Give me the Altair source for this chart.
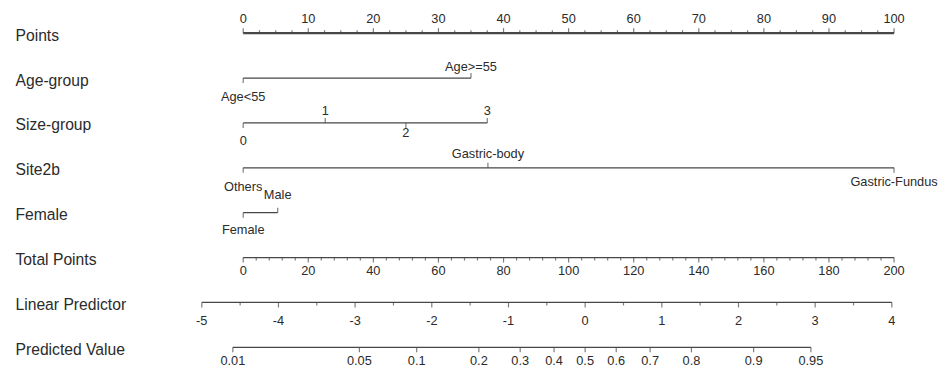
import altair as alt
import pandas as pd
import numpy as np

# ---------------- data ----------------
ROWS = ["Points", "Age-group", "Size-group", "Site2b", "Female",
        "Total Points", "Linear Predictor", "Predicted Value"]

POINTS_LABELS = [0, 10, 20, 30, 40, 50, 60, 70, 80, 90, 100]
POINTS_MINOR_STEP = 2.5

AGE_LEVELS = ["Age<55", "Age>=55"]
AGE_POINTS = [0, 35]
AGE_SIDE = ["below", "above"]

SIZE_LEVELS = ["0", "1", "2", "3"]
SIZE_POINTS = [0, 12.6, 25, 37.5]
SIZE_SIDE = ["below", "above", "below", "above"]

SITE_LEVELS = ["Others", "Gastric-body", "Gastric-Fundus"]
SITE_POINTS = [0, 37.6, 100]
SITE_SIDE = ["below", "above", "below"]

SEX_LEVELS = ["Female", "Male"]
SEX_POINTS = [0, 5.3]
SEX_SIDE = ["below", "above"]

TOTAL_LABELS = [0, 20, 40, 60, 80, 100, 120, 140, 160, 180, 200]
TOTAL_MINOR_STEP = 4
TOTAL_PER_POINT = 2.0

LP_LABELS = [-5, -4, -3, -2, -1, 0, 1, 2, 3, 4]
LP_MINOR_STEP = 0.5
LP_AT_ZERO_POINTS = -4.46
POINTS_PER_LP = 11.78

PV_VALUES = [0.01, 0.05, 0.1, 0.2, 0.3, 0.4, 0.5, 0.6, 0.7, 0.8, 0.9, 0.95]
PV_TEXT = ["0.01", "0.05", "0.1", "0.2", "0.3", "0.4", "0.5", "0.6", "0.7",
           "0.8", "0.9", "0.95"]

# ---------------- styling (label offsets in px) ----------------
ROW_DY = {"Points": -14, "Total Points": 13, "Linear Predictor": 19,
          "Predicted Value": 14}
CAT_DY = {("Age-group", "Age<55"): 19, ("Age-group", "Age>=55"): -11,
          ("Size-group", "0"): 18, ("Size-group", "1"): -12,
          ("Size-group", "2"): 10, ("Size-group", "3"): -12,
          ("Site2b", "Others"): 19, ("Site2b", "Gastric-body"): -14,
          ("Site2b", "Gastric-Fundus"): 14,
          ("Female", "Female"): 17, ("Female", "Male"): -18}


def lp_to_points(lp):
    return (lp - LP_AT_ZERO_POINTS) * POINTS_PER_LP


tick_rows, label_rows = [], []


def add_tick(row, x, side, major):
    tick_rows.append({"row": row, "x": float(x), "side": side,
                      "kind": "major" if major else "minor"})


def add_label(row, x, text, dy):
    label_rows.append({"row": row, "x": float(x), "label": text, "dy": dy})


# Points
for v in POINTS_LABELS:
    add_tick("Points", v, "up", True)
    add_label("Points", v, str(v), ROW_DY["Points"])
for v in np.arange(0, 100 + 1e-9, POINTS_MINOR_STEP):
    if abs(v % 10) > 1e-9:
        add_tick("Points", v, "up", False)

# categorical rows
for row, levels, pts, sides in [
    ("Age-group", AGE_LEVELS, AGE_POINTS, AGE_SIDE),
    ("Size-group", SIZE_LEVELS, SIZE_POINTS, SIZE_SIDE),
    ("Site2b", SITE_LEVELS, SITE_POINTS, SITE_SIDE),
    ("Female", SEX_LEVELS, SEX_POINTS, SEX_SIDE),
]:
    for lev, p, s in zip(levels, pts, sides):
        add_tick(row, p, "up" if s == "above" else "down", True)
        add_label(row, p, lev, CAT_DY[(row, lev)])

# Total points
for v in TOTAL_LABELS:
    add_tick("Total Points", v / TOTAL_PER_POINT, "down", True)
    add_label("Total Points", v / TOTAL_PER_POINT, str(v), ROW_DY["Total Points"])
for v in np.arange(0, 200 + 1e-9, TOTAL_MINOR_STEP):
    if abs(v % 20) > 1e-9:
        add_tick("Total Points", v / TOTAL_PER_POINT, "down", False)

# Linear predictor
for v in LP_LABELS:
    add_tick("Linear Predictor", lp_to_points(v), "down", True)
    add_label("Linear Predictor", lp_to_points(v), str(v), ROW_DY["Linear Predictor"])
for v in np.arange(LP_LABELS[0], LP_LABELS[-1] + 1e-9, LP_MINOR_STEP):
    if abs(v - round(v)) > 1e-9:
        add_tick("Linear Predictor", lp_to_points(v), "down", False)

# Predicted value (logit scale)
for p, t in zip(PV_VALUES, PV_TEXT):
    x = lp_to_points(np.log(p / (1 - p)))
    add_tick("Predicted Value", x, "down", True)
    add_label("Predicted Value", x, t, ROW_DY["Predicted Value"])

ticks = pd.DataFrame(tick_rows)
labels = pd.DataFrame(label_rows)

XMIN = lp_to_points(LP_LABELS[0])
LINE = "#474747"
TEXT = "#2b2b2b"
FONT = "Liberation Sans"

xscale = alt.Scale(domain=[XMIN, 100], nice=False, zero=False)
YAXIS = alt.Axis(title=None, domain=False, ticks=False, tickSize=0,
                 grid=False, labelAlign="left", labelPadding=187,
                 labelFontSize=15.7, labelFont=FONT, labelColor=TEXT,
                 labelBaseline="middle", labelOffset=2)
yenc = alt.Y("row:N", scale=alt.Scale(type="point", padding=0, domain=ROWS),
             axis=YAXIS)

lines = alt.Chart(ticks).transform_aggregate(
    xmin="min(x)", xmax="max(x)", groupby=["row"]
).mark_rule(color=LINE).encode(
    x=alt.X("xmin:Q", scale=xscale, axis=None),
    x2="xmax:Q",
    y=yenc,
    strokeWidth=alt.condition(alt.datum.row == "Points", alt.value(2.2), alt.value(1.3)),
)

layers = [lines]
for side, sign in [("up", -1), ("down", 1)]:
    for kind, length in [("major", 5), ("minor", 3)]:
        layers.append(
            alt.Chart(ticks).transform_filter(
                (alt.datum.side == side) & (alt.datum.kind == kind)
            ).mark_tick(color=LINE, size=length, thickness=1.2,
                        yOffset=sign * length / 2).encode(
                x=alt.X("x:Q", scale=xscale, axis=None),
                y=yenc,
            )
        )

for dy in sorted(labels["dy"].unique()):
    layers.append(
        alt.Chart(labels).transform_filter(alt.datum.dy == float(dy)).mark_text(
            font=FONT, fontSize=12.8, color=TEXT, align="center",
            baseline="middle", dy=float(dy)
        ).encode(
            x=alt.X("x:Q", scale=xscale, axis=None),
            y=yenc,
            text="label:N",
        )
    )

chart = alt.layer(*layers).properties(
    width=693, height=314.5,
    autosize=alt.AutoSizeParams(type="none"),
    padding={"left": 194, "top": 25, "right": 45, "bottom": 24},
).configure_view(stroke=None)

chart.save("out.html", embed_options={"renderer": "svg", "actions": False})
